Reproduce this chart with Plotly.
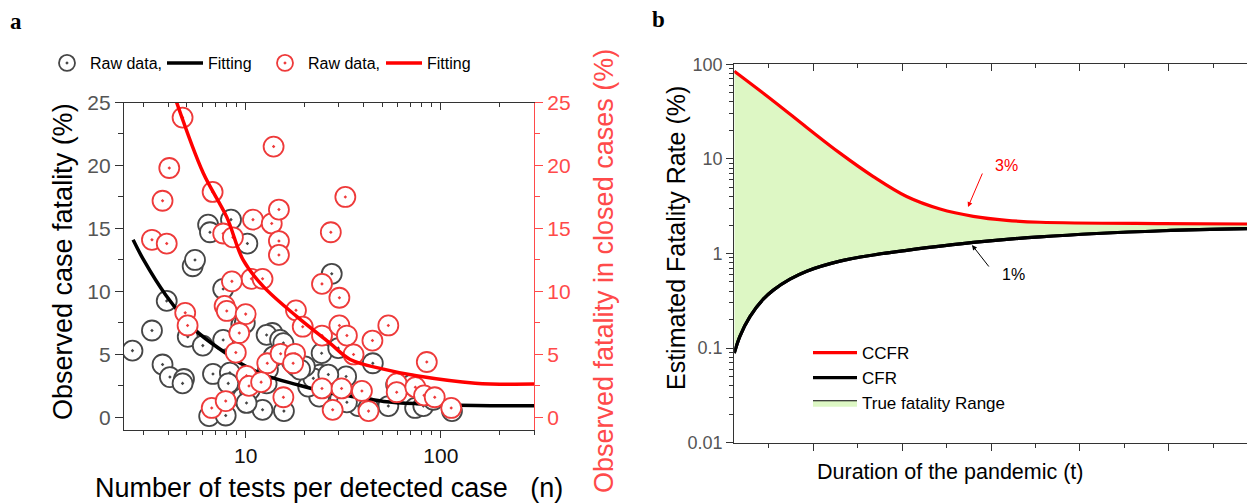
import math
import plotly.graph_objects as go

# ---------------- Panel a data ----------------
tests_black = [2.63, 3.31, 3.94, 3.75, 4.09, 4.83, 4.75, 5.05, 6.03, 5.35, 5.5, 6.42, 6.56, 8.41,
               10.2, 7.67, 7.67, 9.5, 6.8, 6.5, 7.9, 8.3, 8.14, 9.66, 12.2, 15.7, 13.7, 12.8, 15.0,
               12.8, 27.6, 24.5, 24.0, 23.8, 29.8, 32.7, 30.5, 37.8, 15.6, 9.9, 10.5, 20.9, 22.2,
               26.5, 17.2, 18.2, 20.1, 13.9, 13.0, 44.8, 53.8, 73.8, 81.3, 91.6, 114, 59, 71, 42.6,
               10.1, 19.0, 33.0]
cfr_black = [5.3, 6.9, 9.25, 4.2, 3.2, 3.05, 2.7, 6.4, 5.7, 12.0, 12.5, 15.3, 14.7, 15.7,
             13.8, 10.2, 6.15, 7.35, 3.45, 0.1, 0.15, 3.55, 2.7, 1.55, 0.6, 0.5, 6.7, 6.55, 6.15,
             2.7, 11.4, 5.1, 3.4, 1.65, 5.5, 3.25, 1.55, 0.9, 5.9, 7.5, 2.2, 2.45, 3.1,
             3.4, 4.45, 4.05, 4.05, 4.85, 3.8, 4.3, 0.9, 0.75, 0.9, 1.4, 0.5, 2.6, 2.6, 0.75,
             1.15, 3.8, 1.2]

tests_red = [4.75, 4.06, 3.75, 3.31, 3.94, 6.77, 7.67, 8.6, 10.9, 13.6, 14.8, 14.8, 14.8, 13.9,
             10.7, 12.2, 8.5, 4.9, 5.04, 7.8, 8.0, 10.0, 9.27, 8.9, 6.7, 7.9, 10.1, 10.4, 12.9,
             12.0, 15.6, 15.1, 17.9, 17.5, 18.1, 19.6, 24.6, 27.3, 32.4, 30.2, 24.6, 30.2, 33.0,
             35.7, 24.6, 31.0, 27.9, 39.4, 44.6, 53.8, 84.7, 42.6, 59.4, 59.4, 74, 82, 93, 113]
closed_red = [23.8, 19.8, 17.2, 14.1, 13.8, 17.9, 14.6, 14.3, 15.7, 15.4, 16.5, 14.0, 12.9, 21.5,
              11.0, 11.0, 10.8, 8.3, 7.3, 8.85, 8.45, 8.2, 6.7, 5.15, 0.75, 1.3, 3.3, 2.5, 4.3,
              2.8, 1.6, 5.05, 5.05, 4.3, 8.5, 7.2, 10.6, 14.7, 17.5, 9.5, 6.5, 7.3, 6.5,
              5.0, 2.3, 2.3, 0.6, 2.1, 6.1, 7.3, 4.4, 0.5, 2.7, 2.0, 2.4, 1.75, 1.6, 0.75]

fit_black_x = [2.65, 3.0, 3.9, 5.5, 7.9, 9.4, 12.3, 18.3, 27, 35, 51, 75, 150, 300]
fit_black_y = [14.1, 12.5, 9.7, 6.95, 5.1, 4.3, 3.4, 2.6, 1.93, 1.66, 1.27, 1.09, 0.95, 0.93]
fit_red_x = [4.43, 6.06, 8.0, 9.7, 12.3, 18.3, 27, 34.3, 50.8, 75, 150, 300]
fit_red_y = [25, 19.4, 15.9, 12.5, 10.4, 8.0, 5.9, 4.6, 3.83, 3.3, 2.72, 2.65]

x_major_a = [10, 100]
x_minor_a = [3, 4, 5, 6, 7, 8, 9, 20, 30, 40, 50, 60, 70, 80, 90, 200, 300]

# ---------------- Panel b data ----------------
t_ccfr = [1.11, 5.5, 9.26, 13.0, 16.75, 20.5, 24.26, 28.0, 31.75, 35.5, 49.3, 58.8]
ccfr = [84.4, 41, 21.5, 11.5, 6.5, 4.0, 2.95, 2.47, 2.24, 2.14, 2.07, 2.05]
t_cfr = [1.11, 1.75, 2.87, 4.37, 5.5, 7.38, 9.26, 13.0, 16.75, 20.5, 28.0, 35.5, 49.3, 58.8]
cfr = [0.0886, 0.134, 0.215, 0.329, 0.41, 0.535, 0.65, 0.83, 0.965, 1.08, 1.31, 1.50, 1.74, 1.83]

t_major = [10, 20, 30, 40, 50]
t_minor = [5, 15, 25, 35, 45, 55]
y_major_b = [0.01, 0.1, 1, 10, 100]
y_labels_b = ["0.01", "0.1", "1", "10", "100"]
y_minor_b = [m * d for d in [0.01, 0.1, 1, 10] for m in range(2, 10)]

FONT = "Liberation Sans, Arial, sans-serif"
RED = "#ff0000"
RED_MK = "#ee3a3a"
RED_AX = "#ff4a4a"
GRAY_MK = "#464646"
GREEN = "#ddf7c4"

W, H = 1247, 504
def px(x):
    return x / W
def py(y):
    return 1 - y / H

fig = go.Figure()

# panel a traces
fig.add_trace(go.Scatter(x=tests_black, y=cfr_black, mode="markers", name="Raw data,",
                         marker=dict(symbol="circle-dot", size=20, color="white",
                                     line=dict(color=GRAY_MK, width=1.8)),
                         xaxis="x", yaxis="y", legend="legend"))
fig.add_trace(go.Scatter(x=fit_black_x, y=fit_black_y, mode="lines", name="Fitting",
                         line=dict(color="black", width=3.5, shape="spline"),
                         xaxis="x", yaxis="y", legend="legend3"))
fig.add_trace(go.Scatter(x=tests_red, y=closed_red, mode="markers", name="Raw data,",
                         marker=dict(symbol="circle-dot", size=20, color="white",
                                     line=dict(color=RED_MK, width=1.8)),
                         xaxis="x", yaxis="y2", legend="legend4"))
fig.add_trace(go.Scatter(x=fit_red_x, y=fit_red_y, mode="lines", name="Fitting",
                         line=dict(color=RED, width=3.5, shape="spline"),
                         xaxis="x", yaxis="y2", legend="legend5"))
fig.add_trace(go.Scatter(x=[None], y=[None], mode="markers", showlegend=False,
                         xaxis="x3", yaxis="y"))

# panel b traces
fig.add_trace(go.Scatter(x=t_cfr, y=cfr, mode="lines", name="CFR", legendrank=2,
                         line=dict(color="black", width=3.2, shape="spline"),
                         xaxis="x2", yaxis="y3", legend="legend2"))
fig.add_trace(go.Scatter(x=t_ccfr, y=ccfr, mode="lines", name="True fatality Range", legendrank=3,
                         fill="tonexty", fillcolor=GREEN,
                         line=dict(color="black", width=1, shape="spline"),
                         xaxis="x2", yaxis="y3", legend="legend2"))
fig.add_trace(go.Scatter(x=t_ccfr, y=ccfr, mode="lines", name="CCFR", legendrank=1,
                         line=dict(color=RED, width=3.2, shape="spline"),
                         xaxis="x2", yaxis="y3", legend="legend2"))
fig.add_trace(go.Scatter(x=t_cfr, y=cfr, mode="lines", showlegend=False,
                         line=dict(color="black", width=3.2, shape="spline"),
                         xaxis="x2", yaxis="y3"))
fig.add_trace(go.Scatter(x=[None], y=[None], mode="markers", showlegend=False,
                         xaxis="x4", yaxis="y3"))

xa_dom = [px(124), px(534)]
ya_dom = [py(430), py(102.5)]
xb_dom = [px(734.3), 1.0]
yb_dom = [py(442.7), py(64.3)]
xr_a = [math.log10(2.38), math.log10(300)]

axis_common = dict(showgrid=False, zeroline=False, showline=True, linewidth=1.3,
                   linecolor="#333333", tickcolor="#333333", tickwidth=1.3, automargin=False)

def leg_a(x):
    return dict(orientation="h", x=px(x), y=py(63), xanchor="left", yanchor="middle",
                font=dict(size=16, family=FONT), bgcolor="rgba(0,0,0,0)", itemwidth=36)

fig.update_layout(
    width=W, height=H, margin=dict(l=0, r=0, t=0, b=0, autoexpand=False),
    paper_bgcolor="white", plot_bgcolor="white",
    font=dict(family=FONT, color="black"),
    xaxis=dict(domain=xa_dom, anchor="y", type="log", range=xr_a,
               tickvals=x_major_a, ticktext=["10", "100"], ticks="outside", ticklen=7,
               tickfont=dict(size=21, color="#111111"),
               minor=dict(tickvals=x_minor_a, ticks="outside", ticklen=4,
                          tickcolor="#333333", tickwidth=1.2),
               **axis_common),
    xaxis3=dict(overlaying="x", anchor="y", side="top", type="log", range=xr_a,
                tickvals=x_major_a, showticklabels=False, ticks="inside", ticklen=7,
                minor=dict(tickvals=x_minor_a, ticks="inside", ticklen=4,
                           tickcolor="#333333", tickwidth=1.2),
                **axis_common),
    yaxis=dict(domain=ya_dom, anchor="x", range=[-1, 25], tick0=0, dtick=5,
               ticks="outside", ticklen=8, tickfont=dict(size=21, color="#555555"),
               minor=dict(dtick=2.5, tick0=0, ticks="outside", ticklen=5,
                          tickcolor="#333333", tickwidth=1.2),
               **axis_common),
    yaxis2=dict(overlaying="y", anchor="x", side="right", range=[-1, 25], tick0=0, dtick=5,
                ticks="outside", ticklen=8, tickfont=dict(size=21, color=RED_AX),
                showgrid=False, zeroline=False, showline=True, linewidth=1.3, automargin=False,
                linecolor=RED_AX, tickcolor=RED_AX, tickwidth=1.3,
                minor=dict(dtick=2.5, tick0=0, ticks="outside", ticklen=5,
                           tickcolor=RED_AX, tickwidth=1.2)),
    xaxis2=dict(domain=xb_dom, anchor="y3", range=[1.11, 58.8],
                tickvals=t_major, showticklabels=False, ticks="outside", ticklen=7,
                minor=dict(tickvals=t_minor, ticks="outside", ticklen=4,
                           tickcolor="#333333", tickwidth=1.2),
                **axis_common),
    xaxis4=dict(overlaying="x2", anchor="y3", side="top", range=[1.11, 58.8],
                tickvals=t_major, showticklabels=False, ticks="inside", ticklen=7,
                minor=dict(tickvals=t_minor, ticks="inside", ticklen=4,
                           tickcolor="#333333", tickwidth=1.2),
                **axis_common),
    yaxis3=dict(domain=yb_dom, anchor="x2", type="log", range=[-2, 2],
                tickvals=y_major_b, ticktext=y_labels_b, ticks="outside", ticklen=7,
                tickfont=dict(size=18, color="#555555"),
                minor=dict(tickvals=y_minor_b, ticks="outside", ticklen=4,
                           tickcolor="#333333", tickwidth=1.1),
                **axis_common),
    legend=leg_a(44),
    legend3=leg_a(162),
    legend4=leg_a(262),
    legend5=leg_a(381),
    legend2=dict(orientation="v", x=px(808), y=py(335), xanchor="left", yanchor="top",
                 font=dict(size=17, family=FONT), bgcolor="rgba(0,0,0,0)", itemwidth=44,
                 tracegroupgap=0, traceorder="normal"),
    showlegend=True,
)

def text_ann(text, x, y, size, color="black", angle=0, family=None):
    f = dict(size=size, color=color)
    if family:
        f["family"] = family
    return dict(text=text, x=px(x), y=py(y), xref="paper", yref="paper", showarrow=False,
                xanchor="center", yanchor="middle", textangle=angle, font=f)

SERIF = "Liberation Serif, Times New Roman, serif"
ann = [
    text_ann("<b>a</b>", 16, 22, 23, family=SERIF),
    text_ann("<b>b</b>", 658, 20, 23, family=SERIF),
    text_ann("Observed case fatality (%)", 63, 262, 27, angle=-90),
    text_ann("Observed fatality in closed cases (%)", 604, 271, 27, color=RED_AX, angle=-90),
    text_ann("Number of tests per detected case\u00a0\u00a0\u00a0(n)", 329, 488, 27),
    text_ann("Estimated Fatality Rate (%)", 676, 238, 25, angle=-90),
    text_ann("Duration of the pandemic (t)", 950, 472, 21.5),
    text_ann("3%", 1006, 166, 16, color=RED),
    text_ann("1%", 1013, 274, 16),
    dict(text="", x=px(968), y=py(207), xref="paper", yref="paper", showarrow=True,
         ax=15, ay=-35, arrowhead=2, arrowsize=1, arrowwidth=1, arrowcolor=RED),
    dict(text="", x=px(972), y=py(245), xref="paper", yref="paper", showarrow=True,
         ax=18, ay=23, arrowhead=2, arrowsize=1, arrowwidth=1, arrowcolor="black"),
]
fig.update_layout(annotations=ann)

fig.write_html("out.html", config={"displayModeBar": False},
               post_script="document.body.style.margin='0px';document.body.style.overflow='hidden';")
